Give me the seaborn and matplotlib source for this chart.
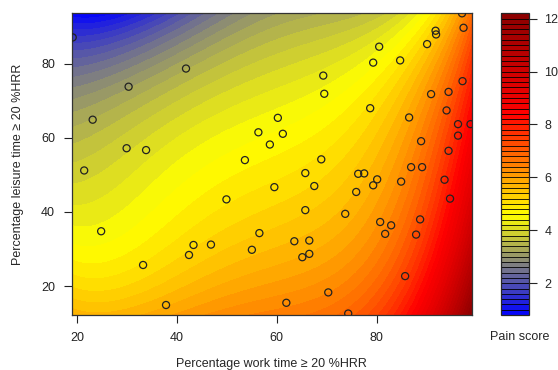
import numpy as np
import pandas as pd
import matplotlib
matplotlib.use("Agg")
import matplotlib.pyplot as plt
from matplotlib.colors import LinearSegmentedColormap
import seaborn as sns

# observed participants: % work time and % leisure time >= 20 %HRR
work_pct = [19.1, 41.8, 30.3, 23.1, 29.9, 33.8, 21.4, 24.8, 33.2, 37.8,
            42.4, 43.3, 46.8, 49.9, 53.6, 56.3, 58.6, 60.2, 61.2, 59.5,
            56.5, 55.0, 61.9, 63.5, 65.1, 66.5, 66.5, 65.7, 65.7, 67.5,
            68.9, 69.3, 69.5, 70.3, 74.3, 73.7, 75.9, 76.3, 77.5, 78.7,
            79.3, 80.5, 79.3, 80.1, 80.7, 82.9, 81.7, 84.7, 84.9, 86.5,
            86.9, 89.1, 88.9, 88.7, 87.9, 85.7, 90.1, 91.8, 91.9, 90.9,
            94.0, 94.4, 97.2, 97.4, 97.1, 96.3, 98.8, 96.3, 94.4, 93.6,
            94.7]
leisure_pct = [87.1, 78.7, 73.8, 64.9, 57.2, 56.7, 51.2, 34.8, 25.7, 14.9,
               28.4, 31.1, 31.2, 43.4, 54.0, 61.5, 58.2, 65.4, 61.1, 46.7,
               34.3, 29.8, 15.5, 32.1, 27.8, 32.3, 28.7, 40.5, 50.5, 47.0,
               54.2, 76.8, 71.9, 18.3, 12.6, 39.5, 45.4, 50.3, 50.4, 68.0,
               80.3, 84.6, 47.2, 48.8, 37.3, 36.4, 34.1, 80.9, 48.2, 65.5,
               52.1, 52.1, 59.1, 38.0, 33.9, 22.7, 85.3, 88.9, 87.9, 71.8,
               67.4, 72.4, 75.3, 89.7, 93.6, 63.7, 63.7, 60.6, 56.5, 48.7,
               43.6]

# predicted pain score (rows = leisure, cols = work)
grid_work = [19, 30, 40, 50, 60, 70, 80, 90, 95, 99]
grid_leisure = [93.5, 80, 60, 40, 20, 12.4]
pain_y935 = [0.8, 1.3, 1.8, 2.6, 3.1, 3.5, 3.9, 4.5, 5.4, 7.0]
pain_y80 = [2.3, 2.9, 3.2, 3.6, 3.9, 4.3, 4.7, 5.4, 6.5, 7.7]
pain_y60 = [3.5, 3.9, 4.15, 4.4, 4.6, 5.0, 5.6, 6.4, 7.8, 8.8]
pain_y40 = [4.15, 4.45, 4.65, 4.9, 5.2, 5.5, 6.0, 7.4, 8.5, 9.7]
pain_y20 = [5.3, 5.45, 5.7, 5.9, 6.2, 6.5, 7.0, 8.3, 9.6, 11.4]
pain_y124 = [5.6, 5.7, 5.9, 6.1, 6.4, 6.7, 7.4, 9.0, 10.5, 12.2]

pain_levels = np.arange(0.8, 12.21, 0.2)
cbar_ticks = [2, 4, 6, 8, 10, 12]
x_ticks = [20, 40, 60, 80]
y_ticks = [20, 40, 60, 80]


def design(x, y, dx=4, dy=3):
    u = (np.asarray(x, float) - 59) / 40
    w = (np.asarray(y, float) - 53) / 41
    return np.stack([u ** i * w ** j for i in range(dx + 1) for j in range(dy + 1)], axis=-1)


# smooth response surface through the readings
rx, ry = np.meshgrid(grid_work, grid_leisure)
rz = np.array([pain_y935, pain_y80, pain_y60, pain_y40, pain_y20, pain_y124])
coef, *_ = np.linalg.lstsq(design(rx.ravel(), ry.ravel()), rz.ravel(), rcond=None)
gx, gy = np.meshgrid(np.linspace(18.9, 99.1, 300), np.linspace(12.2, 93.6, 300))
gz = np.clip(design(gx, gy) @ coef, 0.81, 12.19)

sns.set_style("ticks")
plt.rcParams['font.family'] = ['Liberation Sans', 'DejaVu Sans']
plt.rcParams['font.size'] = 9

pain_cmap = LinearSegmentedColormap.from_list("pain", ["#0000ff", "#ffff00", "#ff0000", "#8b0000"])

fig = plt.figure(figsize=(5.58, 3.70), dpi=100)
ax = fig.add_axes([0.1285, 0.1486, 0.7174, 0.8154])
cax = fig.add_axes([0.8978, 0.1486, 0.0502, 0.8154])

cf = ax.contourf(gx, gy, gz, levels=pain_levels, cmap=pain_cmap)
df = pd.DataFrame({"work": work_pct, "leisure": leisure_pct})
sns.scatterplot(data=df, x="work", y="leisure", ax=ax, marker="o", s=26,
                facecolors="none", edgecolors="#222222", linewidth=0.9, zorder=3)

ax.set_xlim(18.9, 99.1)
ax.set_ylim(12.2, 93.6)
ax.set_xticks(x_ticks)
ax.set_yticks(y_ticks)
ax.tick_params(length=6, width=0.8, pad=6, labelsize=9, colors="#222222")
for sp in ax.spines.values():
    sp.set_visible(True)
    sp.set_color("#333333")
    sp.set_linewidth(0.9)
ax.set_xlabel("Percentage work time \u2265 20 %HRR", fontsize=9, labelpad=10)
ax.set_ylabel("Percentage leisure time \u2265 20 %HRR", fontsize=9, labelpad=12)

cb = fig.colorbar(cf, cax=cax, drawedges=True)
cb.dividers.set_color("black")
cb.dividers.set_linewidth(0.6)
cb.outline.set_linewidth(0.9)
cb.set_ticks(cbar_ticks)
cb.ax.tick_params(length=6, width=0.8, pad=5, labelsize=9)
fig.text(0.932, 0.088, "Pain score", ha="center", va="center", fontsize=9)

fig.savefig("out.png", dpi=100)
